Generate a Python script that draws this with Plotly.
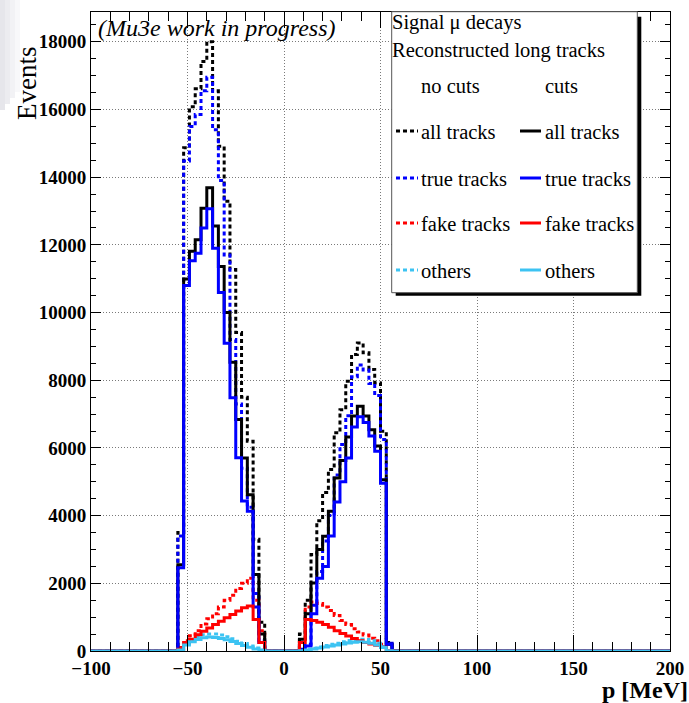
import numpy as np
import plotly.graph_objects as go

# ---------------- histogram data (3 MeV bins from -100 to 200 MeV) ----------------
BIN_LO, BIN_HI, BIN_W = -100, 200, 3

# negative-momentum peak: bins starting at -55 MeV (15 bins, up to -10 MeV)
left_start = -55
all_nocut_L = [3500, 14870, 16080, 16610, 17420, 18000, 16550, 14910, 13290, 11270, 9410, 7500, 6200, 3300, 850]
true_nocut_L = [3400, 14480, 15500, 15850, 16550, 16950, 15400, 13900, 11700, 9200, 7300, 5400, 4250, 1700, 300]
fake_nocut_L = [100, 300, 450, 600, 800, 950, 1100, 1300, 1500, 1650, 1850, 2000, 2150, 1500, 600]
other_nocut_L = [50, 220, 330, 420, 480, 500, 500, 470, 420, 360, 290, 220, 150, 90, 30]
all_cut_L = [2550, 10990, 11810, 12150, 13080, 13690, 12560, 11360, 10000, 8530, 6840, 5700, 4620, 2260, 500]
true_cut_L = [2460, 10800, 11530, 11750, 12500, 13070, 11900, 10590, 9090, 7480, 5710, 4430, 4130, 1300, 250]
fake_cut_L = [50, 250, 350, 480, 580, 680, 780, 880, 980, 1080, 1180, 1280, 1330, 930, 250]
other_cut_L = [30, 180, 270, 340, 390, 410, 400, 370, 330, 280, 220, 160, 110, 60, 20]

# positive-momentum peak: bins starting at 8 MeV (16 bins, up to 56 MeV)
right_start = 8
all_nocut_R = [500, 1500, 2850, 3850, 4680, 5360, 6450, 7130, 7970, 8760, 9100, 8810, 8320, 7920, 6490, 250]
true_nocut_R = [150, 200, 1350, 2350, 3250, 4000, 5200, 6100, 6950, 8100, 8450, 8300, 7900, 7550, 6250, 230]
fake_nocut_R = [250, 1300, 1450, 1400, 1300, 1200, 1050, 900, 780, 660, 560, 470, 380, 300, 200, 0]
other_nocut_R = [10, 40, 80, 120, 160, 200, 230, 270, 310, 340, 350, 340, 300, 230, 130, 10]
all_cut_R = [350, 1100, 2010, 3000, 3390, 4130, 5110, 5630, 6320, 6940, 7230, 6940, 6540, 6060, 5060, 200]
true_cut_R = [50, 150, 1100, 2150, 2500, 3400, 4400, 5000, 5700, 6620, 6920, 6750, 6350, 5900, 4960, 200]
fake_cut_R = [250, 930, 900, 850, 780, 700, 600, 520, 440, 370, 300, 250, 210, 170, 110, 0]
other_cut_R = [10, 30, 60, 90, 120, 150, 180, 210, 240, 260, 270, 260, 230, 180, 100, 10]

x_ticks = [-100, -50, 0, 50, 100, 150, 200]
y_ticks = [0, 2000, 4000, 6000, 8000, 10000, 12000, 14000, 16000, 18000]
Y_MAX = 18880

BLACK, BLUE, RED, CYAN = "#000000", "#0000ff", "#ff0000", "#3cc3f2"
DASH = "4px,3px"
SERIF = "Liberation Serif"

edges = np.arange(BIN_LO, BIN_HI + BIN_W, BIN_W)
nbins = len(edges) - 1


def histogram(left_vals, right_vals):
    counts = np.zeros(nbins)
    i0 = (left_start - BIN_LO) // BIN_W
    counts[i0:i0 + len(left_vals)] = left_vals
    j0 = (right_start - BIN_LO) // BIN_W
    counts[j0:j0 + len(right_vals)] = right_vals
    return counts


series = [
    ("all tracks (no cuts)", all_nocut_L, all_nocut_R, BLACK, DASH),
    ("true tracks (no cuts)", true_nocut_L, true_nocut_R, BLUE, DASH),
    ("fake tracks (no cuts)", fake_nocut_L, fake_nocut_R, RED, DASH),
    ("others (no cuts)", other_nocut_L, other_nocut_R, CYAN, DASH),
    ("all tracks (cuts)", all_cut_L, all_cut_R, BLACK, "solid"),
    ("true tracks (cuts)", true_cut_L, true_cut_R, BLUE, "solid"),
    ("fake tracks (cuts)", fake_cut_L, fake_cut_R, RED, "solid"),
    ("others (cuts)", other_cut_L, other_cut_R, CYAN, "solid"),
]

fig = go.Figure()
for name, lv, rv, color, dash in series:
    counts = histogram(lv, rv)
    fig.add_trace(go.Scatter(
        x=edges, y=np.append(counts, counts[-1]),
        mode="lines", line=dict(color=color, width=3, dash=dash, shape="hv"),
        name=name, showlegend=False, cliponaxis=False, hoverinfo="skip",
    ))

# empty trace so the top/right tick axes get drawn
fig.add_trace(go.Scatter(x=[None], y=[None], xaxis="x2", yaxis="y2",
                         showlegend=False, hoverinfo="skip"))

# ---------------- layout / frame geometry ----------------
ML, MR, MT, MB = 91, 19, 12, 52
WIDTH, HEIGHT = 689, 703
PW, PH = WIDTH - ML - MR, HEIGHT - MT - MB


def fx(px):
    return (px - ML) / PW


def fy(py):
    return (HEIGHT - MB - py) / PH


tick_font = dict(family=SERIF, size=19, color="black", weight="bold")
grid = dict(showgrid=True, gridcolor="#7a7a7a", griddash="1px,2px", gridwidth=1)

fig.update_layout(
    xaxis=dict(range=[BIN_LO, BIN_HI], tickvals=x_ticks, ticks="inside", ticklen=16,
               tickcolor="black", showline=True, linecolor="black", linewidth=1,
               zeroline=False, tickfont=tick_font, automargin=False,
               minor=dict(dtick=10, ticks="inside", ticklen=9, tickcolor="black", showgrid=False),
               **grid),
    yaxis=dict(range=[0, Y_MAX], tickvals=y_ticks, tickformat="d", ticks="inside", ticklen=10,
               tickcolor="black", showline=True, linecolor="black", linewidth=1,
               zeroline=False, tickfont=tick_font, automargin=False,
               minor=dict(dtick=500, ticks="inside", ticklen=5, tickcolor="black", showgrid=False),
               **grid),
    xaxis2=dict(range=[BIN_LO, BIN_HI], overlaying="x", side="top", tickvals=x_ticks,
                ticks="inside", ticklen=16, tickcolor="black", showticklabels=False,
                showline=True, linecolor="black", linewidth=1, showgrid=False, zeroline=False,
                automargin=False,
                minor=dict(dtick=10, ticks="inside", ticklen=9, tickcolor="black", showgrid=False)),
    yaxis2=dict(range=[0, Y_MAX], overlaying="y", side="right", tickvals=y_ticks,
                ticks="inside", ticklen=10, tickcolor="black", showticklabels=False,
                showline=True, linecolor="black", linewidth=1, showgrid=False, zeroline=False,
                automargin=False,
                minor=dict(dtick=500, ticks="inside", ticklen=5, tickcolor="black", showgrid=False)),
)

shapes = []
annotations = []

# faint grey fade along the top-left edge of the canvas
for i, shade in enumerate(["#e6e6eb", "#ececf0", "#f2f2f5", "#f8f8fa"]):
    shapes.append(dict(type="rect", xref="paper", yref="paper", layer="below",
                       x0=fx(i * 5), x1=fx(i * 5 + 5), y0=fy(110 - i * 6), y1=fy(0),
                       fillcolor=shade, line=dict(width=0)))

# legend box with drop shadow
bx0, by0, bx1, by1 = 391.7, 11.7, 637.3, 292.7
shapes.append(dict(type="rect", xref="paper", yref="paper", layer="above",
                   x0=fx(bx0 + 4), x1=fx(bx1 + 4), y0=fy(by1 + 3), y1=fy(by0 + 5),
                   fillcolor="black", line=dict(width=0)))
shapes.append(dict(type="rect", xref="paper", yref="paper", layer="above",
                   x0=fx(bx0), x1=fx(bx1), y0=fy(by1), y1=fy(by0),
                   fillcolor="white", line=dict(color="#555555", width=1)))


def text(s, px, py, size=20.5, xanchor="left", **kw):
    annotations.append(dict(text=s, xref="paper", yref="paper", x=fx(px), y=fy(py),
                            xanchor=xanchor, yanchor="middle", showarrow=False,
                            font=dict(family=SERIF, size=size, color="black"), **kw))


text("Signal \u03bc decays", 390, 22)
text("Reconstructed long tracks", 390, 51)
text("no cuts", 419, 86)
text("cuts", 543, 86)

rows = [("all tracks", BLACK, 131), ("true tracks", BLUE, 178),
        ("fake tracks", RED, 223), ("others", CYAN, 270)]
for label, color, ry in rows:
    shapes.append(dict(type="line", xref="paper", yref="paper", layer="above",
                       x0=fx(396), x1=fx(418), y0=fy(ry), y1=fy(ry),
                       line=dict(color=color, width=3, dash=DASH)))
    shapes.append(dict(type="line", xref="paper", yref="paper", layer="above",
                       x0=fx(520), x1=fx(541), y0=fy(ry), y1=fy(ry),
                       line=dict(color=color, width=3)))
    text(label, 419, ry + 1)
    text(label, 543, ry + 1)

# labels
text("<i>(Mu3e work in progress)</i>", 96, 28, size=24)
annotations.append(dict(text="Events", xref="paper", yref="paper", x=fx(27), y=fy(83),
                        xanchor="center", yanchor="middle", textangle=-90, showarrow=False,
                        font=dict(family=SERIF, size=27, color="black")))
annotations.append(dict(text="<b>p [MeV]</b>", xref="paper", yref="paper", x=fx(690), y=fy(690),
                        xanchor="right", yanchor="middle", showarrow=False,
                        font=dict(family=SERIF, size=24, color="black")))

fig.update_layout(
    width=WIDTH, height=HEIGHT,
    margin=dict(l=ML, r=MR, t=MT, b=MB, pad=0, autoexpand=False),
    paper_bgcolor="white", plot_bgcolor="white",
    shapes=shapes, annotations=annotations, showlegend=False,
)

fig.write_html("out.html")
